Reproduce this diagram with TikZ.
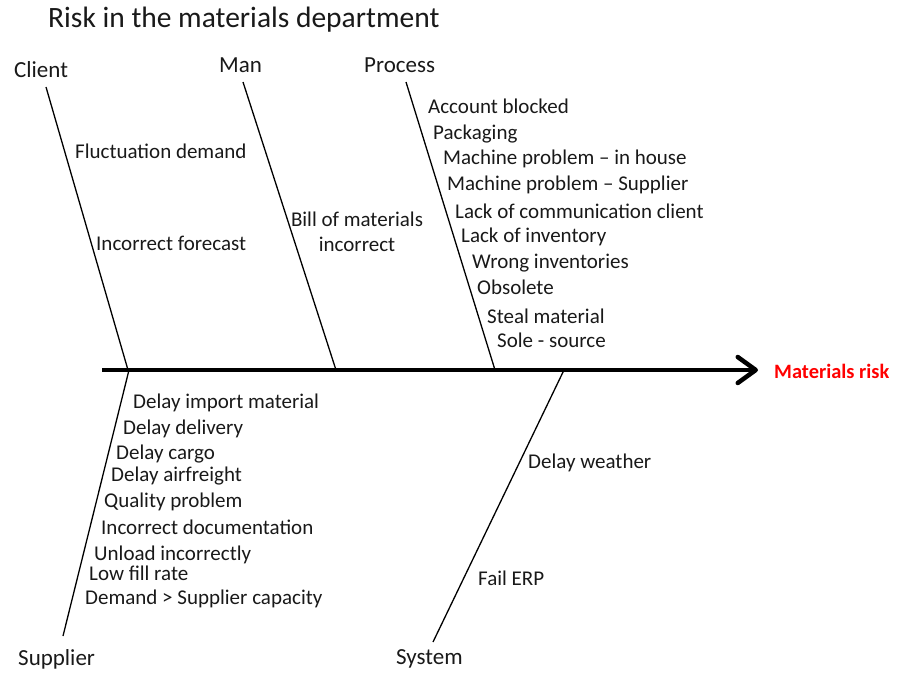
\documentclass[tikz,border=0pt]{standalone}
\usepackage{fontspec}
\setmainfont{Carlito}
\usetikzlibrary{arrows.meta}
\begin{document}
\begin{tikzpicture}[x=1pt,y=-1pt,
  bone/.style={line width=1.3pt,black},
  spine/.style={line width=4.5pt,black,-{Straight Barb[length=18pt,width=26pt,round]}},
  cause/.style={anchor=west,inner sep=0pt,font=\fontsize{21}{24}\selectfont,text=black!90},
  category/.style={anchor=west,inner sep=0pt,font=\fontsize{23}{27}\selectfont,text=black!90},
  effect/.style={anchor=west,inner sep=0pt,font=\bfseries\fontsize{20.4}{24}\selectfont,text=red}]
\useasboundingbox (0,0) rectangle (911,673);

% title
\node[anchor=west,inner sep=0pt,font=\fontsize{29.5}{34}\selectfont,text=black!90] (title) at (48,20) {Risk in the materials department};

% spine and effect
\coordinate (spineS) at (102,370);
\coordinate (spineE) at (758,370);
\node[effect] (effect) at (774,371) {Materials risk};
\draw[spine] (spineS) -- (spineE);

% category labels
\node[category] (client) at (14,70) {Client};
\node[category] (man) at (219,65) {Man};
\node[category] (process) at (364,65) {Process};
\node[category] (supplier) at (18,659) {Supplier};
\node[category] (system) at (396,659) {System};

% bone end points
\coordinate (clientT) at (46,87);   \coordinate (clientB) at (128,370);
\coordinate (manT) at (243,82);     \coordinate (manB) at (336,370);
\coordinate (processT) at (406,82); \coordinate (processB) at (495,370);
\coordinate (supplierB) at (63,636); \coordinate (supplierT) at (129,370);
\coordinate (systemB) at (433,642); \coordinate (systemT) at (564,370);

\draw[bone] (clientT) -- (clientB);
\draw[bone] (manT) -- (manB);
\draw[bone] (processT) -- (processB);
\draw[bone] (supplierB) -- (supplierT);
\draw[bone] (systemB) -- (systemT);

% client causes
\node[cause] (c1) at (75,151) {Fluctuation demand};
\node[cause] (c2) at (96,243) {Incorrect forecast};

% man causes
\node[cause,anchor=center,align=center,font=\fontsize{21}{25}\selectfont] (m1) at (357,232) {Bill of materials\\incorrect};

% process causes
\node[cause] (p1) at (428,106) {Account blocked};
\node[cause] (p2) at (433,134) {Packaging};
\node[cause] (p3) at (443,159) {Machine problem -- in house};
\node[cause] (p4) at (447,185) {Machine problem -- Supplier};
\node[cause] (p5) at (455,211) {Lack of communication client};
\node[cause] (p6) at (461,237) {Lack of inventory};
\node[cause] (p7) at (472,263) {Wrong inventories};
\node[cause] (p8) at (477,287) {Obsolete};
\node[cause] (p9) at (487,316) {Steal material};
\node[cause] (p10) at (497,340) {Sole - source};

% supplier causes
\node[cause] (s1) at (133,403) {Delay import material};
\node[cause] (s2) at (123,429) {Delay delivery};
\node[cause] (s3) at (116,454) {Delay cargo};
\node[cause] (s4) at (111,476) {Delay airfreight};
\node[cause] (s5) at (104,502) {Quality problem};
\node[cause] (s6) at (101,527) {Incorrect documentation};
\node[cause] (s7) at (94,555) {Unload incorrectly};
\node[cause] (s8) at (89,573) {Low fill rate};
\node[cause] (s9) at (85,599) {Demand > Supplier capacity};

% system causes
\node[cause] (y1) at (528,463) {Delay weather};
\node[cause] (y2) at (478,578) {Fail ERP};
\end{tikzpicture}
\end{document}
